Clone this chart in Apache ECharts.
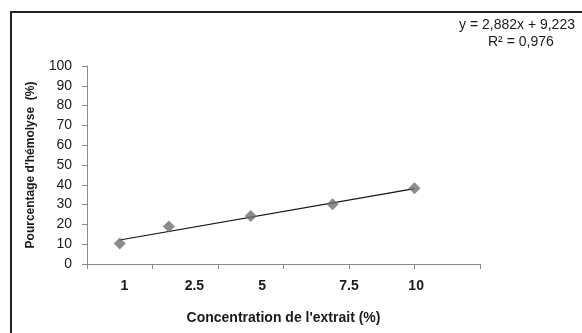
<!DOCTYPE html>
<html><head><meta charset="utf-8">
<script src="https://cdn.jsdelivr.net/npm/echarts@6/dist/echarts.min.js"></script>
<style>html,body{margin:0;padding:0;background:#fff}#c{width:582px;height:333px}</style>
</head><body><div id="c"></div>
<script>
var concentrations = [1, 2.5, 5, 7.5, 10];
var hemolysis = [10.3, 19.0, 24.3, 30.2, 38.3];
var tickLabels = ['1', '2.5', '5', '7.5', '10'];
var trendSlope = 2.882;
var trendIntercept = 9.223;
var trendR2 = '0,976';
var yTitle = "Pourcentage d'hémolyse  (%)";
var xTitle = "Concentration de l'extrait (%)";

// label anchor positions on the value scale (as drawn in the reference)
var labelAnchors = [1.14, 3.28, 5.35, 8.0, 10.05];

var pts = concentrations.map(function (x, i) { return [x, hemolysis[i]]; });
var x0 = concentrations[0], x1 = concentrations[concentrations.length - 1];
var trend = [[x0, trendSlope * x0 + trendIntercept], [x1, trendSlope * x1 + trendIntercept]];
var eqText = 'y = ' + String(trendSlope).replace('.', ',') + 'x + ' + String(trendIntercept).replace('.', ',');

var chart = echarts.init(document.getElementById('c'), null, {renderer: 'canvas'});
var font = "'Liberation Sans', Arial, sans-serif";
chart.setOption({
  animation: false,
  textStyle: {fontFamily: font},
  grid: {left: 87, right: 102, top: 66, bottom: 69, containLabel: false},
  xAxis: [{
    type: 'value', min: 0, max: 12, interval: 2,
    axisLine: {lineStyle: {color: '#8a8a8a', width: 1}},
    axisTick: {show: true, length: 5, lineStyle: {color: '#8a8a8a'}},
    axisLabel: {show: false},
    splitLine: {show: false},
    name: xTitle, nameLocation: 'middle', nameGap: 47,
    nameTextStyle: {fontFamily: font, fontWeight: 'bold', fontSize: 14, color: '#1a1a1a'}
  }, {
    type: 'value', min: 0, max: 12, position: 'bottom', gridIndex: 0,
    axisLine: {show: false}, axisTick: {show: false}, splitLine: {show: false},
    axisLabel: {
      show: true, customValues: labelAnchors, margin: 15,
      fontFamily: font, fontWeight: 'bold', fontSize: 14, color: '#1a1a1a',
      formatter: function (v) {
        for (var i = 0; i < labelAnchors.length; i++) { if (Math.abs(labelAnchors[i] - v) < 1e-6) return tickLabels[i]; }
        return '';
      }
    }
  }],
  yAxis: {
    type: 'value', min: 0, max: 100, interval: 10,
    axisLine: {show: true, lineStyle: {color: '#8a8a8a', width: 1}},
    axisTick: {show: true, length: 5, lineStyle: {color: '#8a8a8a'}},
    axisLabel: {margin: 15, fontFamily: font, fontSize: 14, color: '#1a1a1a'},
    splitLine: {show: false},
    name: yTitle, nameLocation: 'middle', nameGap: 50, nameRotate: 90,
    nameTextStyle: {fontFamily: font, fontWeight: 'bold', fontSize: 12, color: '#1a1a1a'}
  },
  series: [{
    type: 'line', data: trend, symbol: 'none', silent: true,
    lineStyle: {color: '#111', width: 1.2}, z: 2
  }, {
    type: 'scatter', data: pts, symbol: 'diamond', symbolSize: [12, 12],
    itemStyle: {color: '#6f6f6f'}, z: 3
  }],
  graphic: [{
    type: 'rect', shape: {x: 11, y: 12, width: 600, height: 400},
    style: {fill: null, stroke: '#222', lineWidth: 2}, silent: true
  }, {
    type: 'text', left: 459, top: 18,
    style: {text: eqText, font: '14px ' + font, fill: '#1a1a1a'}
  }, {
    type: 'text', left: 488, top: 35,
    style: {text: 'R² = ' + trendR2, font: '14px ' + font, fill: '#1a1a1a'}
  }]
});
</script></body></html>
